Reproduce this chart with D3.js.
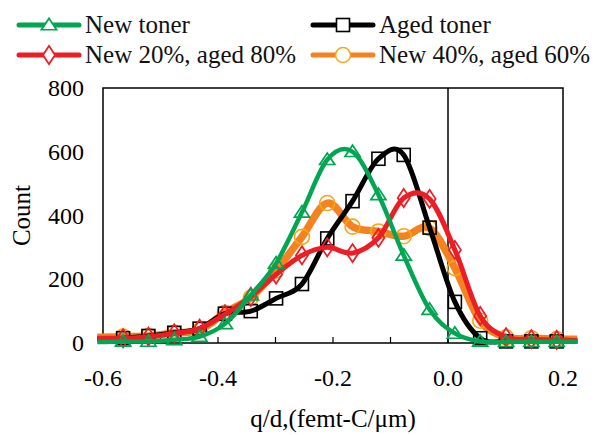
<!DOCTYPE html>
<html lang="en">
<head>
<meta charset="UTF-8">
<title>Toner charge distribution</title>
<style>
    body { margin: 0; background: #fff; }
    svg { display: block; }
</style>
<script src="https://cdn.jsdelivr.net/npm/d3@7"></script>
</head>
<body>
<script>
    // q/d positions (first and last are line ends without markers)
    const qd = [-0.61, -0.565, -0.521, -0.476, -0.432, -0.388, -0.343, -0.299, -0.254, -0.210,
                -0.166, -0.121, -0.077, -0.032, 0.012, 0.056, 0.101, 0.145, 0.189, 0.225];

    const newToner   = [3, 5, 5, 10, 20, 60, 150, 250, 410, 575, 600, 465, 275, 105, 30, 5, 4, 4, 4, 4];
    const agedToner  = [12, 15, 22, 32, 45, 92, 100, 140, 185, 328, 445, 578, 590, 362, 129, 15, 5, 5, 5, 5];
    const new20aged80 = [15, 15, 20, 30, 45, 90, 145, 215, 275, 300, 282, 330, 455, 452, 292, 85, 18, 12, 10, 8];
    const new40aged60 = [18, 20, 22, 32, 40, 95, 142, 228, 333, 439, 365, 350, 335, 360, 235, 70, 18, 15, 12, 12];

    const xTicks = [-0.6, -0.4, -0.2, 0.0, 0.2];
    const xMinorTicks = [-0.6, -0.5, -0.4, -0.3, -0.2, -0.1, 0.0, 0.1, 0.2];
    const yTicks = [0, 200, 400, 600, 800];

    const series = [
        {name: "New 40%, aged 60%", values: new40aged60, color: "#F58220", mcolor: "#F9A51A", width: 7.5, marker: "circle", legend: 3},
        {name: "Aged toner", values: agedToner, color: "#000000", mcolor: "#000000", width: 5, marker: "square", legend: 1},
        {name: "New 20%, aged 80%", values: new20aged80, color: "#EE1D25", mcolor: "#EE1D25", width: 5, marker: "diamond", legend: 2},
        {name: "New toner", values: newToner, color: "#00A651", mcolor: "#00A651", width: 4.5, marker: "triangle", legend: 0}
    ];

    const FONT = "Liberation Serif";

    const width = 595, height = 435;
    const margins = {top: 88, bottom: 92, left: 103, right: 32};

    const svg = d3.select("body").append("svg")
        .attr("width", width)
        .attr("height", height)
        .attr("font-family", FONT);

    const xScale = d3.scaleLinear()
        .domain([-0.6, 0.2])
        .range([margins.left, width - margins.right]);

    const yScale = d3.scaleLinear()
        .domain([0, 800])
        .range([height - margins.bottom, margins.top]);

    const y0 = yScale(0);

    // plot frame
    svg.append("rect")
        .attr("x", xScale(-0.6))
        .attr("y", yScale(800))
        .attr("width", xScale(0.2) - xScale(-0.6))
        .attr("height", yScale(0) - yScale(800))
        .attr("fill", "none")
        .attr("stroke", "#000")
        .attr("stroke-width", 1.5);

    // vertical axis line at q/d = 0
    svg.append("line")
        .attr("x1", xScale(0)).attr("x2", xScale(0))
        .attr("y1", yScale(800)).attr("y2", y0)
        .attr("stroke", "#000").attr("stroke-width", 1.5);

    // x ticks pointing up
    svg.append("g").selectAll("line")
        .data(xMinorTicks)
        .enter().append("line")
        .attr("x1", d => xScale(d)).attr("x2", d => xScale(d))
        .attr("y1", y0).attr("y2", y0 - 6)
        .attr("stroke", "#000").attr("stroke-width", 1.2);

    svg.append("g").selectAll("text")
        .data(xTicks)
        .enter().append("text")
        .style("font-family", FONT)
        .attr("font-size", 24)
        .attr("x", d => xScale(d))
        .attr("y", y0 + 43)
        .attr("text-anchor", "middle")
        .text(d => d.toFixed(1));

    svg.append("g").selectAll("text")
        .data(yTicks)
        .enter().append("text")
        .style("font-family", FONT)
        .attr("font-size", 24)
        .attr("x", margins.left - 19)
        .attr("y", d => yScale(d) + 8)
        .attr("text-anchor", "end")
        .text(d => d);

    // smoothed lines (Excel style)
    const lineGen = d3.line()
        .x((d, i) => xScale(qd[i]))
        .y(d => yScale(d))
        .curve(d3.curveCardinal.tension(0));

    const tri = d3.symbol().type(d3.symbolTriangle).size(75);
    const dia = d3.symbol().type(d3.symbolDiamond).size(95);

    function drawMarker(g, type, color, fill) {
        if (type === "circle") {
            g.append("circle").attr("r", 7.5);
        } else if (type === "square") {
            g.append("rect").attr("x", -6.5).attr("y", -6.5).attr("width", 13).attr("height", 13);
        } else if (type === "triangle") {
            g.append("path").attr("d", tri).attr("transform", "translate(0,1) scale(1.15,1)");
        } else {
            g.append("path").attr("d", dia).attr("transform", "scale(1.15,1)");
        }
        g.selectAll("*")
            .attr("fill", fill)
            .attr("stroke", color)
            .attr("stroke-width", 1.6);
    }

    series.forEach(s => {
        const g = svg.append("g");
        g.append("path")
            .datum(s.values)
            .attr("d", lineGen)
            .attr("fill", "none")
            .attr("stroke", s.color)
            .attr("stroke-width", s.width)
            .attr("stroke-linejoin", "round");

        g.selectAll(".m")
            .data(s.values.slice(1, -1))
            .enter().append("g")
            .attr("transform", (d, i) => `translate(${xScale(qd[i + 1])},${yScale(d)})`)
            .each(function() { drawMarker(d3.select(this), s.marker, s.mcolor, "none"); });
    });

    /*---------------Legend-------------------------*/
    const legendPos = [
        {x: 19, y: 25}, {x: 313, y: 25}, {x: 19, y: 55}, {x: 313, y: 55}
    ];
    series.forEach(s => {
        const p = legendPos[s.legend];
        const g = svg.append("g").attr("transform", `translate(${p.x},${p.y})`);
        g.append("line")
            .attr("x1", 0).attr("x2", 60)
            .attr("stroke", s.color)
            .attr("stroke-width", 5)
            .attr("stroke-linecap", "round");
        const m = g.append("g").attr("transform", "translate(30,0)");
        drawMarker(m, s.marker, s.mcolor, "#fff");
        g.append("text")
            .style("font-family", FONT)
            .attr("font-size", 25)
            .attr("fill", "#111")
            .attr("x", 66)
            .attr("y", 8)
            .text(s.name);
    });

    /*---------------Axis labels-------------------------*/
    svg.append("text")
        .style("font-family", FONT)
        .attr("font-size", 25)
        .attr("transform", `translate(30, ${(margins.top + y0) / 2}) rotate(-90)`)
        .attr("text-anchor", "middle")
        .text("Count");

    svg.append("text")
        .style("font-family", FONT)
        .attr("font-size", 25)
        .attr("x", xScale(-0.2))
        .attr("y", 427)
        .attr("text-anchor", "middle")
        .text("q/d,(femt-C/\u03bcm)");
</script>
</body>
</html>
